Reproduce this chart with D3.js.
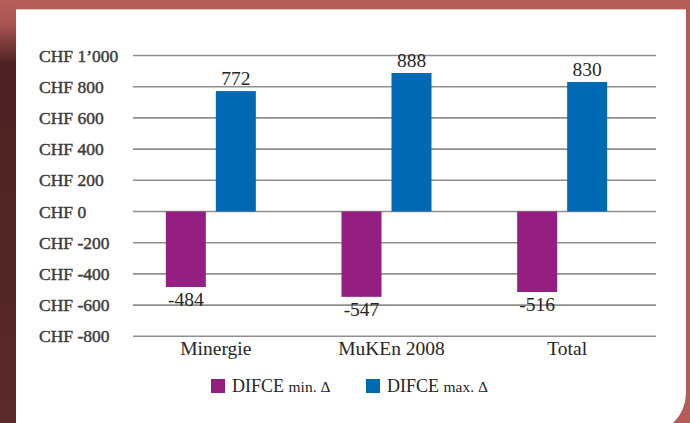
<!DOCTYPE html>
<html>
<head>
<meta charset="utf-8">
<script src="https://cdn.jsdelivr.net/npm/d3@7"></script>
<style>
  html, body { margin: 0; padding: 0; background: #b35c58; }
  svg { display: block; }
</style>
</head>
<body>
<svg id="chart"></svg>
<script>
// chart data
var categories = ['Minergie', 'MuKEn 2008', 'Total'];
var seriesNames = ['DIFCE min. Δ', 'DIFCE max. Δ'];
var minValues = [-484, -547, -516];
var maxValues = [772, 888, 830];
var yTicks = [1000, 800, 600, 400, 200, 0, -200, -400, -600, -800];
var yTickLabels = ['CHF 1\u2019000', 'CHF 800', 'CHF 600', 'CHF 400', 'CHF 200', 'CHF 0',
                   'CHF -200', 'CHF -400', 'CHF -600', 'CHF -800'];
var seriesColors = ['#951e82', '#0069b4'];

var svgWidth = 690;
var svgHeight = 423;

var svg = d3.select('#chart')
    .attr('width', svgWidth)
    .attr('height', svgHeight);

// background + left dark strip
var defs = svg.append('defs');
var grad = defs.append('linearGradient')
    .attr('id', 'leftStrip')
    .attr('x1', 0).attr('y1', 0).attr('x2', 0).attr('y2', 1);
grad.append('stop').attr('offset', '0%').attr('stop-color', '#b65e5a');
grad.append('stop').attr('offset', '6%').attr('stop-color', '#a85350');
grad.append('stop').attr('offset', '15%').attr('stop-color', '#4e2222');
grad.append('stop').attr('offset', '100%').attr('stop-color', '#5a2929');

svg.append('rect')
    .attr('width', svgWidth).attr('height', svgHeight)
    .attr('fill', '#b35c58');
svg.append('rect')
    .attr('x', 0).attr('y', 0).attr('width', 16).attr('height', svgHeight)
    .attr('fill', 'url(#leftStrip)');

// white panel with rounded bottom right corner
var px0 = 16, py0 = 9.5, px1 = 686, py1 = 434, r = 41;
svg.append('path')
    .attr('d', 'M' + px0 + ',' + py0 + 'H' + px1 + 'V' + (py1 - r) +
        'A' + r + ',' + r + ' 0 0 1 ' + (px1 - r) + ',' + py1 + 'H' + px0 + 'Z')
    .attr('fill', '#ffffff');
svg.append('line')
    .attr('x1', px0).attr('x2', px1).attr('y1', py0).attr('y2', py0)
    .attr('stroke', '#eec3bf').attr('stroke-width', 1);

// scales
var gridLeft = 133;
var gridRight = 656;

var yScale = d3.scaleLinear()
    .domain([-800, 1000])
    .range([336.3, 55.5]);

var x0 = d3.scaleBand()
    .domain(categories)
    .range([128, 655]);

var x1 = d3.scaleBand()
    .domain(seriesNames)
    .range([-50, 40])
    .paddingInner(0.2);

// gridlines
svg.append('g')
    .selectAll('line')
    .data(yTicks)
    .join('line')
    .attr('x1', gridLeft)
    .attr('x2', gridRight)
    .attr('y1', d => yScale(d))
    .attr('y2', d => yScale(d))
    .attr('stroke', '#8f8f8f')
    .attr('stroke-width', 1.6);

// y tick labels (semi-bold look)
svg.append('g')
    .selectAll('text')
    .data(yTicks)
    .join('text')
    .attr('x', 39)
    .attr('y', d => yScale(d) + 6)
    .text((d, i) => yTickLabels[i])
    .attr('font-family', '"Liberation Serif", serif')
    .attr('font-size', 17.5)
    .attr('fill', '#3c3c3c')
    .attr('stroke', '#3c3c3c')
    .attr('stroke-width', 0.45);

// bars
var rows = categories.map((c, i) => ({
    category: c,
    values: [
        {series: seriesNames[0], value: minValues[i], color: seriesColors[0]},
        {series: seriesNames[1], value: maxValues[i], color: seriesColors[1]}
    ]
}));

var groups = svg.append('g')
    .selectAll('g')
    .data(rows)
    .join('g')
    .attr('transform', d => 'translate(' + (x0(d.category) + x0.bandwidth() / 2) + ',0)');

groups.selectAll('rect')
    .data(d => d.values)
    .join('rect')
    .attr('x', d => x1(d.series))
    .attr('width', x1.bandwidth())
    .attr('y', d => yScale(Math.max(0, d.value)))
    .attr('height', d => Math.abs(yScale(d.value) - yScale(0)))
    .attr('fill', d => d.color);

// value labels
groups.selectAll('text')
    .data(d => d.values)
    .join('text')
    .attr('x', d => x1(d.series) + x1.bandwidth() / 2)
    .attr('y', d => d.value >= 0 ? yScale(d.value) - 6 : yScale(d.value) + 19)
    .attr('text-anchor', 'middle')
    .attr('font-family', '"Liberation Serif", serif')
    .attr('font-size', 19.5)
    .attr('fill', '#262626')
    .text(d => d.value);

// category labels
svg.append('g')
    .selectAll('text')
    .data(categories)
    .join('text')
    .attr('x', d => x0(d) + x0.bandwidth() / 2)
    .attr('y', 355)
    .attr('text-anchor', 'middle')
    .attr('font-family', '"Liberation Serif", serif')
    .attr('font-size', 19.5)
    .attr('fill', '#262626')
    .text(d => d);

// legend
var legendX = [211, 366];
var legend = svg.append('g')
    .selectAll('g')
    .data(seriesNames)
    .join('g')
    .attr('transform', (d, i) => 'translate(' + legendX[i] + ',379)');

legend.append('rect')
    .attr('width', 14)
    .attr('height', 14)
    .attr('fill', (d, i) => seriesColors[i]);

var legendText = legend.append('text')
    .attr('x', 21)
    .attr('y', 13)
    .attr('font-family', '"Liberation Serif", serif')
    .attr('fill', '#262626');

legendText.append('tspan')
    .attr('font-size', 18)
    .text(d => d.split(' ')[0] + ' ');
legendText.append('tspan')
    .attr('font-size', 15.5)
    .text(d => d.split(' ').slice(1).join(' '));
</script>
</body>
</html>
